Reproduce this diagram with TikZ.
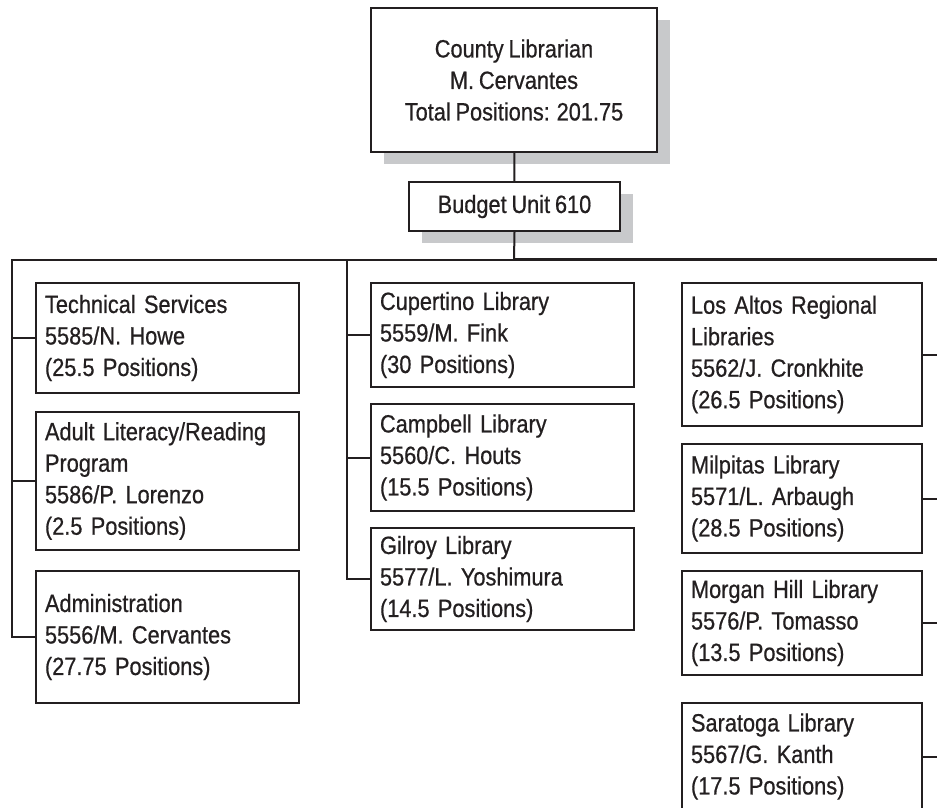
\documentclass[tikz,border=0pt]{standalone}
\usepackage{fontspec}
\setmainfont{Liberation Sans}[FakeStretch=0.87, WordSpace=0.8, FakeBold=0.6]
\usetikzlibrary{shadows}
\definecolor{ink}{RGB}{35,31,32}
\definecolor{shade}{RGB}{200,201,203}
\newcommand{\orgfont}{\fontsize{25}{31.5}\selectfont}
\tikzset{
  orgbox/.style={draw=ink, text=ink, line width=2pt, fill=white, rectangle,
    inner xsep=9pt, inner ysep=0pt, align=left, font=\orgfont},
  headbox/.style={orgbox, align=center,
    drop shadow={fill=shade, opacity=1, shadow xshift=12.5pt, shadow yshift=-12pt}},
  leftcol/.style={orgbox, minimum width=263pt, text width=245pt},
  midcol/.style={orgbox, minimum width=263pt, text width=245pt},
  rightcol/.style={orgbox, minimum width=240pt, text width=222pt},
  conn/.style={draw=ink, line width=2pt},
  trunk/.style={draw=ink, line width=3pt}
}
\begin{document}
\begin{tikzpicture}[x=1pt, y=-1pt]
  \useasboundingbox (0,0) rectangle (937,808);
  \fill[white] (0,0) rectangle (937,808);
  \clip (0,0) rectangle (937,808);

  % head of the department and its budget unit
  \node[headbox, minimum width=286pt, minimum height=144pt] (head) at (514,80)
    {County Librarian\\M. Cervantes\\Total Positions: 201.75};
  \node[headbox, minimum width=211pt, minimum height=49pt] (budget) at (514.5,206.5)
    {Budget Unit 610};

  % branch points of the connector tree
  \coordinate (hub) at (514,259.5);
  \coordinate (ltop) at (12,259.5);
  \coordinate (mtop) at (347,259.5);
  \coordinate (rend) at (937,259.5);

  % left column
  \node[leftcol, minimum height=110pt] (tech) at (167.5,338)
    {Technical Services\\5585/N. Howe\\(25.5 Positions)};
  \node[leftcol, minimum height=138pt] (literacy) at (167.5,481)
    {Adult Literacy/Reading\\Program\\5586/P. Lorenzo\\(2.5 Positions)};
  \node[leftcol, minimum height=132pt] (admin) at (167.5,637)
    {Administration\\5556/M. Cervantes\\(27.75 Positions)};

  % middle column
  \node[midcol, minimum height=104pt] (cupertino) at (502.5,335)
    {Cupertino Library\\5559/M. Fink\\(30 Positions)};
  \node[midcol, minimum height=107pt] (campbell) at (502.5,457.5)
    {Campbell Library\\5560/C. Houts\\(15.5 Positions)};
  \node[midcol, minimum height=102pt] (gilroy) at (502.5,579)
    {Gilroy Library\\5577/L. Yoshimura\\(14.5 Positions)};

  % right column
  \node[rightcol, minimum height=143pt] (losaltos) at (802,354.5)
    {Los Altos Regional\\Libraries\\5562/J. Cronkhite\\(26.5 Positions)};
  \node[rightcol, minimum height=109pt] (milpitas) at (802,498.5)
    {Milpitas Library\\5571/L. Arbaugh\\(28.5 Positions)};
  \node[rightcol, minimum height=104pt] (morgan) at (802,623)
    {Morgan Hill Library\\5576/P. Tomasso\\(13.5 Positions)};
  \node[rightcol, minimum height=107pt] (saratoga) at (802,756.5)
    {Saratoga Library\\5567/G. Kanth\\(17.5 Positions)};

  % connectors
  \draw[conn] (head) -- (budget);
  \draw[conn] (budget.south) -- (hub);
  \draw[conn] (hub) -- (ltop) |- (admin.west);
  \draw[trunk] (hub) -- (rend);
  \draw[conn] (tech.west) -- (tech.west -| ltop);
  \draw[conn] (literacy.west) -- (literacy.west -| ltop);
  \draw[conn] (mtop) |- (gilroy.west);
  \draw[conn] (cupertino.west) -- (cupertino.west -| mtop);
  \draw[conn] (campbell.west) -- (campbell.west -| mtop);
  \draw[conn] (losaltos.east) -- (losaltos.east -| rend);
  \draw[conn] (milpitas.east) -- (milpitas.east -| rend);
  \draw[conn] (morgan.east) -- (morgan.east -| rend);
  \draw[conn] (saratoga.east) -- (saratoga.east -| rend);
\end{tikzpicture}
\end{document}
